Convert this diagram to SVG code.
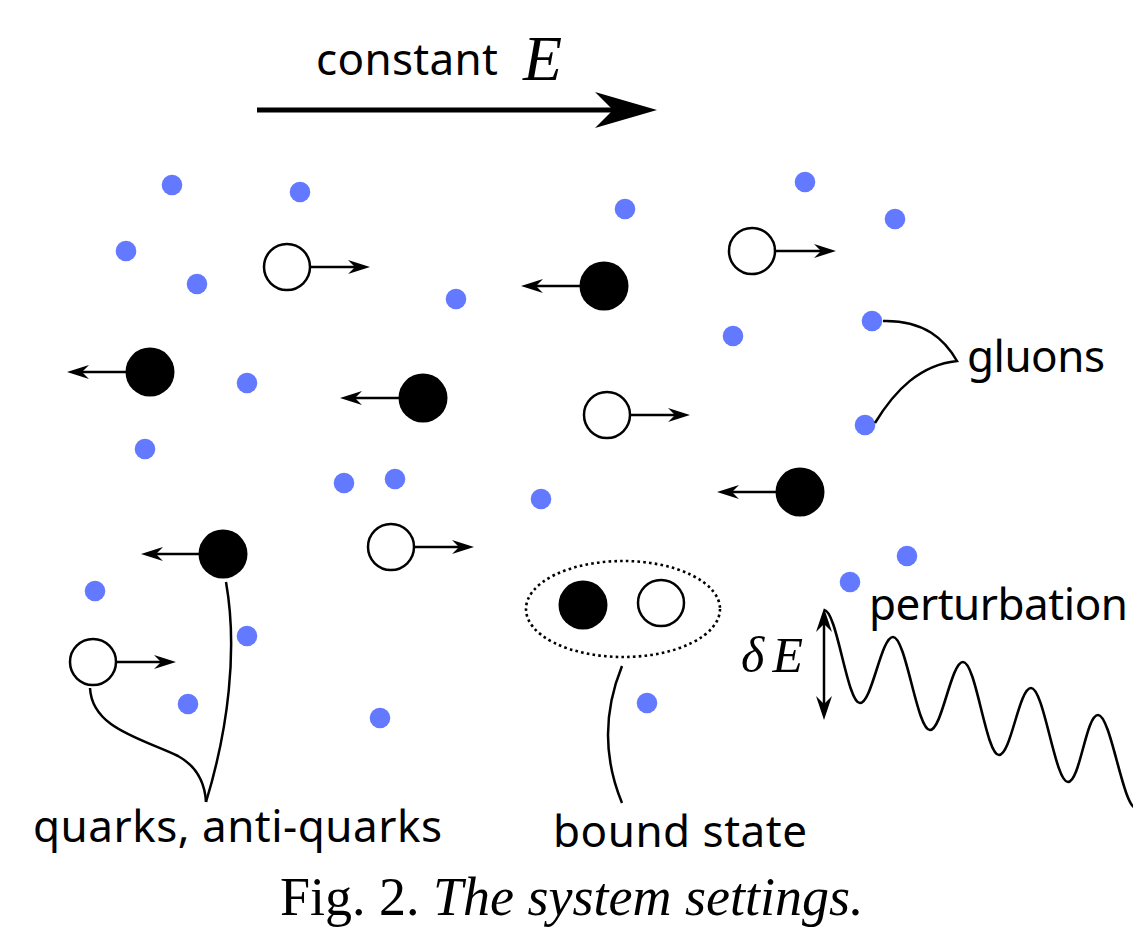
<svg xmlns="http://www.w3.org/2000/svg" width="1133" height="933" viewBox="0 0 1133 933">
<style>
.g{fill:#6379ff}
.q{fill:#000}
.aq{fill:#fff;stroke:#000;stroke-width:2.5}
.v{stroke:#000;stroke-width:2.5;fill:none;marker-end:url(#sm)}
.ld{stroke:#000;stroke-width:2.5;fill:none}
.lbl{font-family:"Noto Sans","Open Sans","DejaVu Sans",sans-serif;font-size:44px;fill:#000}
.math{font-family:"Liberation Serif","DejaVu Serif",serif;font-style:italic;fill:#000}
</style>
<defs>
<marker id="sm" viewBox="-24 -10 26 20" refX="-10" refY="0" markerWidth="26" markerHeight="20" markerUnits="userSpaceOnUse" orient="auto">
<path d="M0,0 L-22,-7 L-15,0 L-22,7 Z" fill="#000"/>
</marker>
<marker id="big" viewBox="-66 -20 68 40" refX="-40" refY="0" markerWidth="68" markerHeight="40" markerUnits="userSpaceOnUse" orient="auto">
<path d="M0,0 L-62,-18 L-44,0 L-62,18 Z" fill="#000"/>
</marker>
<marker id="dm" viewBox="-26 -10 28 20" refX="-12" refY="0" markerWidth="28" markerHeight="20" markerUnits="userSpaceOnUse" orient="auto-start-reverse">
<path d="M0,0 L-24,-8 L-16,0 L-24,8 Z" fill="#000"/>
</marker>
</defs>
<rect width="1133" height="933" fill="#fff"/>

<g id="field">
<text class="lbl" x="316" y="75" textLength="182">constant</text>
<text class="math" x="523" y="80" font-size="64">E</text>
<path d="M257,110 L617,110" stroke="#000" stroke-width="5" fill="none" marker-end="url(#big)"/>
</g>

<g id="gluons">
<circle class="g" cx="172" cy="185" r="10.3"/>
<circle class="g" cx="300" cy="192" r="10.3"/>
<circle class="g" cx="126" cy="251" r="10.3"/>
<circle class="g" cx="197" cy="284" r="10.3"/>
<circle class="g" cx="456" cy="299" r="10.3"/>
<circle class="g" cx="625" cy="209" r="10.3"/>
<circle class="g" cx="805" cy="182" r="10.3"/>
<circle class="g" cx="895" cy="219" r="10.3"/>
<circle class="g" cx="733" cy="336" r="10.3"/>
<circle class="g" cx="872" cy="321" r="10.3"/>
<circle class="g" cx="247" cy="383" r="10.3"/>
<circle class="g" cx="145" cy="449" r="10.3"/>
<circle class="g" cx="344" cy="483" r="10.3"/>
<circle class="g" cx="395" cy="479" r="10.3"/>
<circle class="g" cx="541" cy="499" r="10.3"/>
<circle class="g" cx="865" cy="425" r="10.3"/>
<circle class="g" cx="907" cy="556" r="10.3"/>
<circle class="g" cx="850" cy="582" r="10.3"/>
<circle class="g" cx="95" cy="591" r="10.3"/>
<circle class="g" cx="247" cy="636" r="10.3"/>
<circle class="g" cx="188" cy="704" r="10.3"/>
<circle class="g" cx="380" cy="718" r="10.3"/>
<circle class="g" cx="647" cy="703" r="10.3"/>
</g>

<g id="antiquarks">
<circle class="aq" cx="287" cy="267" r="23"/>
<circle class="aq" cx="752" cy="251" r="23"/>
<circle class="aq" cx="607" cy="415" r="23"/>
<circle class="aq" cx="391" cy="547" r="23"/>
<circle class="aq" cx="93" cy="662" r="23"/>
</g>

<g id="quarks">
<circle class="q" cx="604" cy="286" r="24.5"/>
<circle class="q" cx="150" cy="372" r="24.5"/>
<circle class="q" cx="423" cy="398" r="24.5"/>
<circle class="q" cx="800" cy="492" r="24.5"/>
<circle class="q" cx="223" cy="554" r="24.5"/>
</g>

<g id="bound-state">
<ellipse cx="623" cy="609" rx="97" ry="48" fill="none" stroke="#000" stroke-width="2.6" stroke-dasharray="2.6 3.2"/>
<circle class="q" cx="583" cy="605" r="24.5"/>
<circle class="aq" cx="661" cy="603" r="23"/>
</g>

<g id="perturbation">
<path d="M824,610 C837,610 847,703 860,703 C872,703 881,637 893,637 C906,637 917,730 930,730 C942,730 951,662 963,662 C976,662 986,755 999,755 C1011,755 1019,688 1031,688 C1044,688 1055,782 1068,782 C1080,782 1086,715 1098,715 C1111,715 1123,808 1136,808" stroke="#000" stroke-width="2.6" fill="none"/>
<path d="M824,620 L824,708" stroke="#000" stroke-width="2.5" fill="none" marker-start="url(#dm)" marker-end="url(#dm)"/>
<text class="math" x="741" y="672" font-size="50" textLength="62">δE</text>
</g>

<g id="connectors">
<path class="v" d="M311,267 L360,267"/>
<path class="v" d="M776,251 L826,251"/>
<path class="v" d="M631,415 L680,415"/>
<path class="v" d="M415,547 L464,547"/>
<path class="v" d="M117,662 L166,662"/>
<path class="v" d="M580,286 L531,286"/>
<path class="v" d="M126,372 L77,372"/>
<path class="v" d="M399,398 L350,398"/>
<path class="v" d="M776,492 L727,492"/>
<path class="v" d="M199,554 L151,554"/>
<path class="ld" d="M883,321 C925,320 945,340 957,361 C920,365 895,390 875,423"/>
<path class="ld" d="M226,582 C238,650 228,730 206,802"/>
<path class="ld" d="M90,688 C92,728 140,738 178,756 C198,767 205,785 206,802"/>
<path class="ld" d="M622,666 Q594,735 622,803"/>
</g>

<g id="labels">
<text class="lbl" x="967" y="372" textLength="138">gluons</text>
<text class="lbl" x="869" y="620" textLength="259">perturbation</text>
<text class="lbl" x="33" y="842" textLength="409">quarks, anti-quarks</text>
<text class="lbl" x="553" y="847" textLength="254">bound state</text>
</g>

<g id="caption">
<text x="280" y="915" font-family="Liberation Serif,'Times New Roman',serif" font-size="54" fill="#000">Fig. 2. <tspan font-style="italic">The system settings.</tspan></text>
</g>
</svg>
